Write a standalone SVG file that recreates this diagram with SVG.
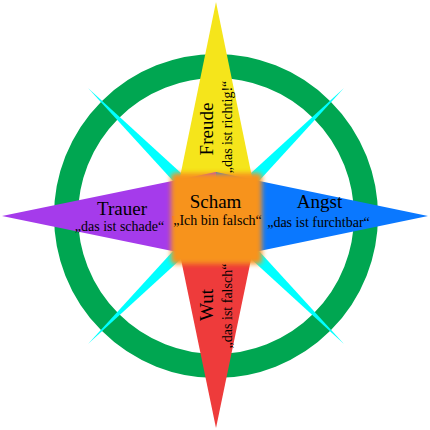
<svg xmlns="http://www.w3.org/2000/svg" width="430" height="430" viewBox="0 0 430 430">
  <style>
    .t { font-family: "Liberation Serif", "Times New Roman", serif; fill: #000; text-anchor: middle; }
    .h { font-size: 19px; }
    .s { font-size: 14px; }
  </style>
  <defs>
    <filter id="feather" x="-20%" y="-20%" width="140%" height="140%">
      <feGaussianBlur stdDeviation="2.6"/>
    </filter>
  </defs>
  <rect width="430" height="430" fill="#fff"/>
  <g id="ring">
    <circle cx="216" cy="216" r="150" fill="none" stroke="#00A651" stroke-width="24"/>
  </g>
  <g id="diagonals" fill="#00FFFF">
    <polygon points="88,88 221.7,210.3 210.3,221.7"/>
    <polygon points="344,88 221.7,221.7 210.3,210.3"/>
    <polygon points="88,344 210.3,210.3 221.7,221.7"/>
    <polygon points="344,344 210.3,221.7 221.7,210.3"/>
  </g>
  <g id="freude">
    <polygon points="216,2 260,216 172,216" fill="#F5E51B"/>
  </g>
  <g id="trauer">
    <polygon points="2,216 216,172 216,260" fill="#A53BEB"/>
  </g>
  <g id="angst">
    <polygon points="428,216 216,172 216,260" fill="#0A78FF"/>
  </g>
  <g id="wut">
    <polygon points="216,428 172,216 260,216" fill="#EE3B3B"/>
  </g>
  <g id="scham">
    <rect x="171" y="173" width="91" height="91" rx="4" fill="#F7931E" filter="url(#feather)"/>
  </g>
  <g id="labels">
    <text class="t h" transform="translate(213,129) rotate(-90)">Freude</text>
    <text class="t s" transform="translate(232,127) rotate(-90)">„das ist richtig!“</text>
    <text class="t h" x="122" y="215">Trauer</text>
    <text class="t s" x="119.5" y="231">„das ist schade“</text>
    <text class="t h" x="319.5" y="208">Angst</text>
    <text class="t s" x="318.5" y="227">„das ist furchtbar“</text>
    <text class="t h" x="215.5" y="208">Scham</text>
    <text class="t s" x="217.5" y="225">„Ich bin falsch“</text>
    <text class="t h" transform="translate(213,305) rotate(-90)">Wut</text>
    <text class="t s" transform="translate(232,306) rotate(-90)">„das ist falsch“</text>
  </g>
</svg>
